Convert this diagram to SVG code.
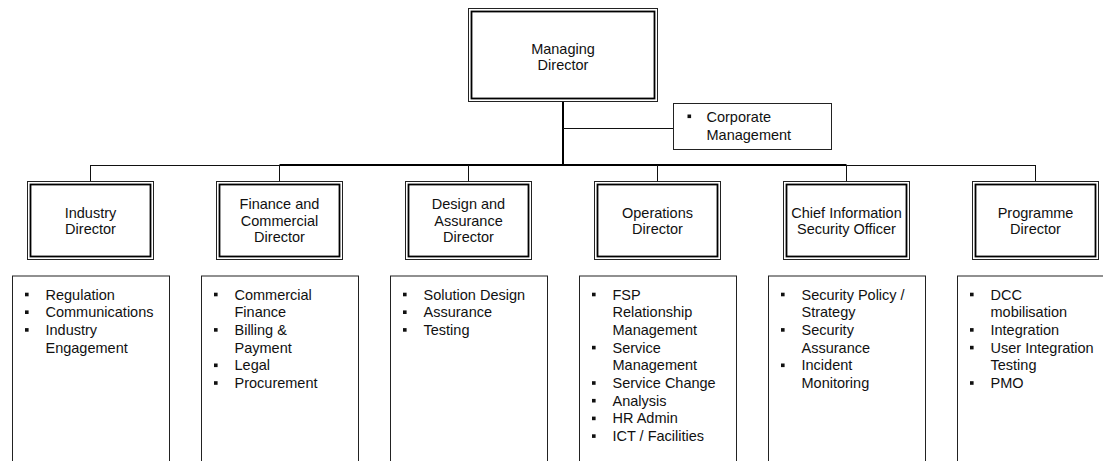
<svg xmlns="http://www.w3.org/2000/svg" xmlns:xlink="http://www.w3.org/1999/xlink" width="1103" height="461" viewBox="0 0 1103 461">
  <style>
    text { font-family: "Liberation Sans", Arial, sans-serif; font-size: 14.5px; fill: #111; }
    .c { text-anchor: middle; }
    .outer { fill: #fff; stroke: #222; stroke-width: 1; }
    .inner { fill: none; stroke: #000; stroke-width: 1.8; }
    .list { fill: #fff; stroke: #222; stroke-width: 1; }
    .thin { stroke: #111; stroke-width: 1; fill: none; }
    .thick { stroke: #000; stroke-width: 2; fill: none; }
  </style>
  <defs>
    <rect id="b" width="3.6" height="3.6" fill="#111"/>
  </defs>
  <rect width="1103" height="461" fill="#fff"/>

  <!-- connectors -->
  <g id="connectors">
    <line class="thick" x1="563" y1="101.5" x2="563" y2="166"/>
    <line class="thin" x1="563" y1="128.5" x2="673.5" y2="128.5"/>
    <line class="thin" x1="90.5" y1="165.5" x2="279.5" y2="165.5"/>
    <line class="thick" x1="279.5" y1="165" x2="846.5" y2="165"/>
    <line class="thin" x1="846.5" y1="165.5" x2="1035.5" y2="165.5"/>
    <line class="thin" x1="90.5" y1="165" x2="90.5" y2="181.5"/>
    <line class="thin" x1="279.5" y1="165" x2="279.5" y2="181.5"/>
    <line class="thin" x1="468.5" y1="165" x2="468.5" y2="181.5"/>
    <line class="thin" x1="657.5" y1="165" x2="657.5" y2="181.5"/>
    <line class="thin" x1="846.5" y1="165" x2="846.5" y2="181.5"/>
    <line class="thin" x1="1035.5" y1="165" x2="1035.5" y2="181.5"/>
  </g>

  <!-- top -->
  <g id="managing-director">
    <rect class="outer" x="468.5" y="8.5" width="189" height="93"/>
    <rect class="inner" x="471.5" y="11.5" width="183" height="87"/>
    <text class="c" x="563" y="53.5">Managing</text>
    <text class="c" x="563" y="70">Director</text>
  </g>

  <g id="corporate-management">
    <rect class="list" x="673.5" y="103.5" width="158" height="46"/>
    <use xlink:href="#b" x="687.5" y="114.5"/>
    <text x="706.5" y="122">Corporate<tspan x="706.5" dy="18">Management</tspan></text>
  </g>

  <!-- directors -->
  <g id="industry-director">
    <rect class="outer" x="27.5" y="181.5" width="126" height="78"/>
    <rect class="inner" x="30.5" y="184.5" width="120" height="72"/>
    <text class="c" x="90.5" y="217.5">Industry</text>
    <text class="c" x="90.5" y="234">Director</text>
  </g>
  <g id="finance-director">
    <rect class="outer" x="216.5" y="181.5" width="126" height="78"/>
    <rect class="inner" x="219.5" y="184.5" width="120" height="72"/>
    <text class="c" x="279.5" y="209">Finance and</text>
    <text class="c" x="279.5" y="225.7">Commercial</text>
    <text class="c" x="279.5" y="242.4">Director</text>
  </g>
  <g id="design-director">
    <rect class="outer" x="405.5" y="181.5" width="126" height="78"/>
    <rect class="inner" x="408.5" y="184.5" width="120" height="72"/>
    <text class="c" x="468.5" y="209">Design and</text>
    <text class="c" x="468.5" y="225.7">Assurance</text>
    <text class="c" x="468.5" y="242.4">Director</text>
  </g>
  <g id="operations-director">
    <rect class="outer" x="594.5" y="181.5" width="126" height="78"/>
    <rect class="inner" x="597.5" y="184.5" width="120" height="72"/>
    <text class="c" x="657.5" y="217.5">Operations</text>
    <text class="c" x="657.5" y="234">Director</text>
  </g>
  <g id="ciso">
    <rect class="outer" x="783.5" y="181.5" width="126" height="78"/>
    <rect class="inner" x="786.5" y="184.5" width="120" height="72"/>
    <text class="c" x="846.5" y="217.5">Chief Information</text>
    <text class="c" x="846.5" y="234">Security Officer</text>
  </g>
  <g id="programme-director">
    <rect class="outer" x="972.5" y="181.5" width="126" height="78"/>
    <rect class="inner" x="975.5" y="184.5" width="120" height="72"/>
    <text class="c" x="1035.5" y="217.5">Programme</text>
    <text class="c" x="1035.5" y="234">Director</text>
  </g>

  <!-- responsibility lists -->
  <g id="industry-list">
    <rect class="list" x="12.5" y="276" width="157" height="200"/>
    <use xlink:href="#b" x="25" y="292.7"/>
    <use xlink:href="#b" x="25" y="310.4"/>
    <use xlink:href="#b" x="25" y="328.1"/>
    <text x="45.5" y="299.5">Regulation<tspan x="45.5" dy="17.7">Communications</tspan><tspan x="45.5" dy="17.7">Industry</tspan><tspan x="45.5" dy="17.7">Engagement</tspan></text>
  </g>
  <g id="finance-list">
    <rect class="list" x="201.5" y="276" width="157" height="200"/>
    <use xlink:href="#b" x="214" y="292.7"/>
    <use xlink:href="#b" x="214" y="328.1"/>
    <use xlink:href="#b" x="214" y="363.5"/>
    <use xlink:href="#b" x="214" y="381.2"/>
    <text x="234.5" y="299.5">Commercial<tspan x="234.5" dy="17.7">Finance</tspan><tspan x="234.5" dy="17.7">Billing &amp;</tspan><tspan x="234.5" dy="17.7">Payment</tspan><tspan x="234.5" dy="17.7">Legal</tspan><tspan x="234.5" dy="17.7">Procurement</tspan></text>
  </g>
  <g id="design-list">
    <rect class="list" x="390.5" y="276" width="157" height="200"/>
    <use xlink:href="#b" x="403" y="292.7"/>
    <use xlink:href="#b" x="403" y="310.4"/>
    <use xlink:href="#b" x="403" y="328.1"/>
    <text x="423.5" y="299.5">Solution Design<tspan x="423.5" dy="17.7">Assurance</tspan><tspan x="423.5" dy="17.7">Testing</tspan></text>
  </g>
  <g id="operations-list">
    <rect class="list" x="579.5" y="276" width="157" height="200"/>
    <use xlink:href="#b" x="592" y="292.7"/>
    <use xlink:href="#b" x="592" y="345.8"/>
    <use xlink:href="#b" x="592" y="381.2"/>
    <use xlink:href="#b" x="592" y="398.9"/>
    <use xlink:href="#b" x="592" y="416.6"/>
    <use xlink:href="#b" x="592" y="434.3"/>
    <text x="612.5" y="299.5">FSP<tspan x="612.5" dy="17.7">Relationship</tspan><tspan x="612.5" dy="17.7">Management</tspan><tspan x="612.5" dy="17.7">Service</tspan><tspan x="612.5" dy="17.7">Management</tspan><tspan x="612.5" dy="17.7">Service Change</tspan><tspan x="612.5" dy="17.7">Analysis</tspan><tspan x="612.5" dy="17.7">HR Admin</tspan><tspan x="612.5" dy="17.7">ICT / Facilities</tspan></text>
  </g>
  <g id="ciso-list">
    <rect class="list" x="768.5" y="276" width="157" height="200"/>
    <use xlink:href="#b" x="781" y="292.7"/>
    <use xlink:href="#b" x="781" y="328.1"/>
    <use xlink:href="#b" x="781" y="363.5"/>
    <text x="801.5" y="299.5">Security Policy /<tspan x="801.5" dy="17.7">Strategy</tspan><tspan x="801.5" dy="17.7">Security</tspan><tspan x="801.5" dy="17.7">Assurance</tspan><tspan x="801.5" dy="17.7">Incident</tspan><tspan x="801.5" dy="17.7">Monitoring</tspan></text>
  </g>
  <g id="programme-list">
    <rect class="list" x="957.5" y="276" width="157" height="200"/>
    <use xlink:href="#b" x="970" y="292.7"/>
    <use xlink:href="#b" x="970" y="328.1"/>
    <use xlink:href="#b" x="970" y="345.8"/>
    <use xlink:href="#b" x="970" y="381.2"/>
    <text x="990.5" y="299.5">DCC<tspan x="990.5" dy="17.7">mobilisation</tspan><tspan x="990.5" dy="17.7">Integration</tspan><tspan x="990.5" dy="17.7">User Integration</tspan><tspan x="990.5" dy="17.7">Testing</tspan><tspan x="990.5" dy="17.7">PMO</tspan></text>
  </g>
</svg>
